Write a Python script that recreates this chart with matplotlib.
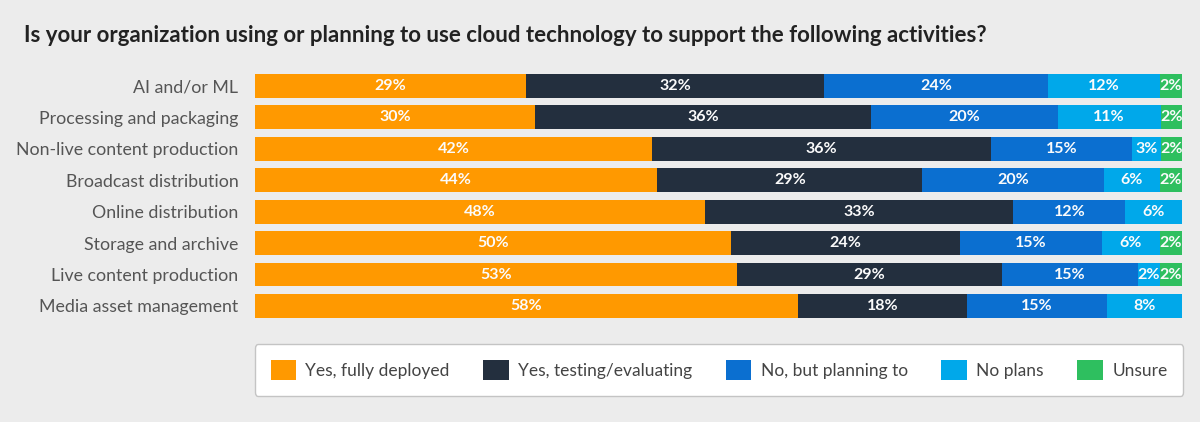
import matplotlib.pyplot as plt
import numpy as np

categories = ["AI and/or ML", "Processing and packaging", "Non-live content production",
              "Broadcast distribution", "Online distribution", "Storage and archive",
              "Live content production", "Media asset management"]
series = ["Yes, fully deployed", "Yes, testing/evaluating", "No, but planning to",
          "No plans", "Unsure"]
colors = ["#ff9900", "#232f3e", "#0b6fd0", "#00a8ea", "#2ebf5f"]

# segment widths (%) as drawn in the chart
fully = [29.2, 30.2, 42.8, 43.4, 48.5, 51.3, 52.0, 58.6]
testing = [32.2, 36.3, 36.6, 28.6, 33.3, 24.7, 28.6, 18.2]
planning = [24.1, 20.1, 15.2, 19.6, 12.1, 15.4, 14.6, 15.1]
no_plans = [12.1, 11.1, 3.1, 6.0, 6.1, 6.2, 2.4, 8.1]
unsure = [2.4, 2.4, 2.4, 2.4, 0, 2.4, 2.4, 0]

# printed labels
fully_lbl = [29, 30, 42, 44, 48, 50, 53, 58]
testing_lbl = [32, 36, 36, 29, 33, 24, 29, 18]
planning_lbl = [24, 20, 15, 20, 12, 15, 15, 15]
no_plans_lbl = [12, 11, 3, 6, 6, 6, 2, 8]
unsure_lbl = [2, 2, 2, 2, 0, 2, 2, 0]

widths = [fully, testing, planning, no_plans, unsure]
labels = [fully_lbl, testing_lbl, planning_lbl, no_plans_lbl, unsure_lbl]

bg = "#ececec"
plt.rcParams['font.family'] = ['Lato', 'DejaVu Sans']

fig = plt.figure(figsize=(12, 4.22), dpi=100, facecolor=bg)
ax = fig.add_axes([255 / 1200, 0.2377, 927 / 1200, 0.5957])
ax.set_facecolor(bg)

y = np.arange(len(categories))
left = np.zeros(len(categories))
for i, name in enumerate(series):
    bars = ax.barh(y, widths[i], left=left, height=0.76, color=colors[i], label=name)
    for j, b in enumerate(bars):
        if labels[i][j] > 0:
            ax.text(b.get_x() + b.get_width() / 2, b.get_y() + b.get_height() / 2,
                    "%d%%" % labels[i][j], ha="center", va="center", color="#fbfbfb",
                    fontsize=11.5, fontweight="bold")
    left += np.array(widths[i])

ax.set_xlim(0, 100)
ax.set_ylim(len(categories) - 0.5, -0.5)
ax.set_yticks(y)
ax.set_yticklabels(categories, fontsize=12.8, color="#555555")
ax.tick_params(axis="y", length=0, pad=12)
ax.set_xticks([])
for s in ax.spines.values():
    s.set_visible(False)

fig.text(24 / 1200, 1 - 35 / 422, "Is your organization using or planning to use cloud technology to support the following activities?",
         fontsize=16, fontweight="bold", color="#222222", va="center", ha="left")

leg = ax.legend(loc="center", bbox_to_anchor=(255 / 1200, 1 - 396 / 422, 928 / 1200, 52 / 422),
                bbox_transform=fig.transFigure, mode="expand", ncol=5, frameon=True,
                fontsize=12.5, handlelength=1.45, handleheight=1.45, handletextpad=0.55,
                borderpad=0.9, borderaxespad=0, fancybox=True, labelcolor="#444444")
leg.get_frame().set_facecolor("white")
leg.get_frame().set_edgecolor("#c4c4c4")
leg.get_frame().set_linewidth(1.0)
leg.get_frame().set_alpha(1)

fig.savefig("out.png", dpi=100, facecolor=bg)
